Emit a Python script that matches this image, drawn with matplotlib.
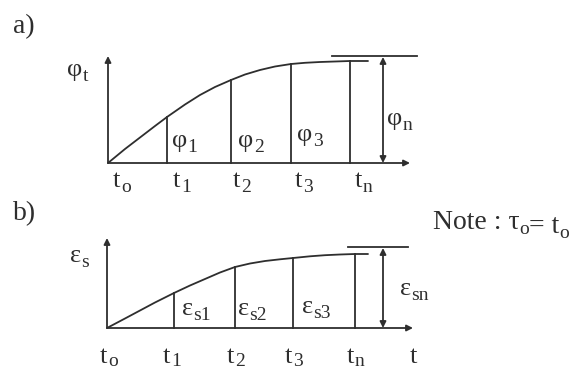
import matplotlib
matplotlib.use("Agg")
import matplotlib.pyplot as plt

plt.rcParams['mathtext.fontset'] = 'custom'
plt.rcParams['mathtext.rm'] = 'Liberation Serif'
plt.rcParams['mathtext.it'] = 'Liberation Serif'
plt.rcParams['mathtext.bf'] = 'Liberation Serif:bold'
plt.rcParams['font.family'] = ['Liberation Serif', 'DejaVu Serif']

# ---------------- data (canvas units, y downward) ----------------
# Panel a)
a_base_y = 163
a_axis_top = 56
a_arrow_tip_x = 410
a_curve_x = [108, 125, 140, 155, 167, 185, 200, 215, 231, 245, 260, 275, 291, 305, 320, 335, 350, 368]
a_curve_y = [163, 149, 137.5, 126, 117, 104.5, 95, 87, 80, 74.5, 70, 66.5, 64, 62.8, 62, 61.5, 61, 61]
a_bar_x = [167, 231, 291, 350]
a_bar_top = [117, 80, 64, 61]
a_limit_y = 56
a_limit_x = [332, 417]
a_dim_x = 383
a_tick_base = ['t', 't', 't', 't', 't']
a_tick_sub = ['o', '1', '2', '3', 'n']
a_tick_left = [113, 173, 233, 295, 355]
a_tick_baseline = 187
a_area_base = ['φ', 'φ', 'φ']
a_area_sub = ['1', '2', '3']
a_area_left = [172, 238, 297]
a_area_baseline = [147, 147, 141]

# Panel b)
b_base_y = 328
b_axis_top = 238
b_arrow_tip_x = 413
b_curve_x = [107, 125, 140, 155, 174, 190, 205, 220, 235, 250, 265, 280, 293, 310, 325, 340, 355, 368]
b_curve_y = [328, 318.5, 310.5, 302.5, 293, 285.5, 279, 272.5, 267, 263.5, 261, 259.3, 258, 256.3, 255.2, 254.5, 254, 254]
b_bar_x = [174, 235, 293, 355]
b_bar_top = [293, 267, 258, 254]
b_limit_y = 247
b_limit_x = [348, 408]
b_dim_x = 383
b_tick_base = ['t', 't', 't', 't', 't', 't']
b_tick_sub = ['o', '1', '2', '3', 'n', '']
b_tick_left = [100, 163, 227, 285, 347, 410]
b_tick_baseline = 363
b_area_base = ['ε', 'ε', 'ε']
b_area_sub = ['s1', 's2', 's3']
b_area_left = [182, 238, 302]
b_area_baseline = [315, 315, 313]

INK = '#2e2e2e'
LW = 1.3
FS = 19
SUB_FS = 14

fig = plt.figure(figsize=(5.79, 3.69), dpi=100)
ax = fig.add_axes([0, 0, 1, 1])
ax.set_xlim(0, 579)
ax.set_ylim(369, 0)
ax.axis('off')


def arrow(x0, y0, x1, y1, style='-|>'):
    ax.annotate('', xy=(x1, y1), xytext=(x0, y0),
                arrowprops=dict(arrowstyle=style, color=INK, lw=LW,
                                mutation_scale=9, shrinkA=0, shrinkB=0))


def label(x, y, base, sub, fs=FS, sfs=SUB_FS, drop=0.2):
    t = ax.text(x, y, base, fontsize=fs, ha='left', va='baseline', color=INK)
    if sub:
        ax.annotate(sub, xy=(1, 0), xycoords=t, xytext=(0.3, drop),
                    textcoords='offset points', fontsize=sfs,
                    ha='left', va='baseline', color=INK)


def panel(curve_x, curve_y, base_y, axis_top, tip_x, bar_x, bar_top,
          limit_x, limit_y, dim_x):
    ax.plot(curve_x, curve_y, color=INK, lw=LW, solid_capstyle='round',
            solid_joinstyle='round')
    for bx, bt in zip(bar_x, bar_top):
        ax.plot([bx, bx], [base_y, bt], color=INK, lw=LW)
    ax.plot(limit_x, [limit_y, limit_y], color=INK, lw=LW)
    arrow(curve_x[0], base_y, tip_x, base_y)
    arrow(curve_x[0], base_y, curve_x[0], axis_top)
    arrow(dim_x, base_y, dim_x, limit_y + 1, style='<|-|>')


panel(a_curve_x, a_curve_y, a_base_y, a_axis_top, a_arrow_tip_x,
      a_bar_x, a_bar_top, a_limit_x, a_limit_y, a_dim_x)
panel(b_curve_x, b_curve_y, b_base_y, b_axis_top, b_arrow_tip_x,
      b_bar_x, b_bar_top, b_limit_x, b_limit_y, b_dim_x)

# panel titles
ax.text(13, 33, 'a)', fontsize=20, ha='left', va='baseline', color=INK)
ax.text(13, 220, 'b)', fontsize=20, ha='left', va='baseline', color=INK)

# axis labels
label(67, 76, 'φ', 't')
label(70, 262, 'ε', 's')
label(387, 125, 'φ', 'n')
label(400, 295, 'ε', 'sn')

for b, s, x, y in zip(a_area_base, a_area_sub, a_area_left, a_area_baseline):
    label(x, y, b, s)
for b, s, x, y in zip(b_area_base, b_area_sub, b_area_left, b_area_baseline):
    label(x, y, b, s)

for b, s, x in zip(a_tick_base, a_tick_sub, a_tick_left):
    label(x, a_tick_baseline, b, s)
for b, s, x in zip(b_tick_base, b_tick_sub, b_tick_left):
    label(x, b_tick_baseline, b, s, drop=1.5)

# note
nt = ax.text(433, 229, 'Note : τ', fontsize=20, ha='left', va='baseline', color=INK)
n2 = ax.annotate('o', xy=(1, 0), xycoords=nt, xytext=(0, 1),
                 textcoords='offset points', fontsize=14, ha='left',
                 va='baseline', color=INK)
n3 = ax.annotate('= t', xy=(1, 0), xycoords=n2, xytext=(0, 3),
                 textcoords='offset points', fontsize=20, ha='left',
                 va='baseline', color=INK)
ax.annotate('o', xy=(1, 0), xycoords=n3, xytext=(0, 1),
            textcoords='offset points', fontsize=14, ha='left',
            va='baseline', color=INK)

fig.savefig('out.png', dpi=100)
